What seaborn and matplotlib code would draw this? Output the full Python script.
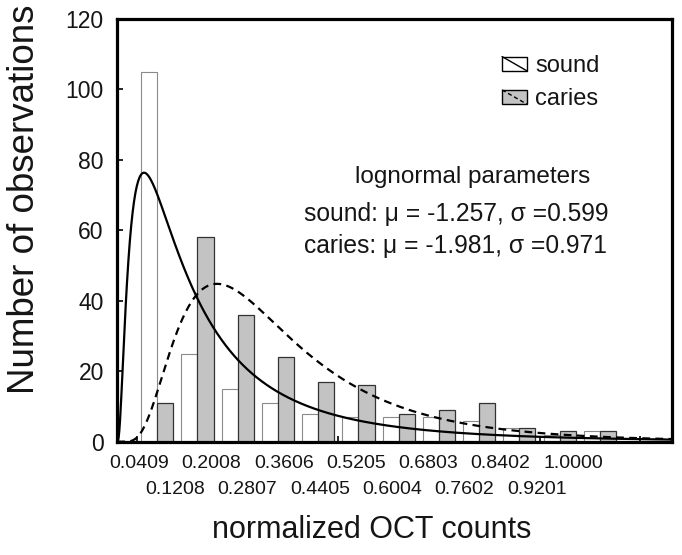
import numpy as np
import pandas as pd
import matplotlib
matplotlib.use("Agg")
import matplotlib.pyplot as plt
import matplotlib.transforms as mtransforms
import seaborn as sns
from matplotlib.patches import Patch, Rectangle
from matplotlib.lines import Line2D
from matplotlib.legend_handler import HandlerBase

# ---------------- data ----------------
bin_labels = ["0.0409", "0.1208", "0.2008", "0.2807", "0.3606", "0.4405", "0.5205",
              "0.6004", "0.6803", "0.7602", "0.8402", "0.9201", "1.0000"]
sound_counts = [105, 25, 15, 11, 8, 7, 7, 7, 6, 4, 2, 3]
caries_counts = [11, 58, 36, 24, 17, 16, 8, 9, 11, 4, 3, 3]
series_names = ["sound", "caries"]
sound_mu, sound_sigma = -1.257, 0.599
caries_mu, caries_sigma = -1.981, 0.971
bin_width = 0.08

# ---------------- style ----------------
sns.set_theme(style="white")
plt.rcParams["font.family"] = ["Liberation Sans", "DejaVu Sans"]
TXT = "#151515"

W, H = 682, 555
fig = plt.figure(figsize=(W / 100, H / 100), dpi=100)
ax_l, ax_r, ax_t, ax_b = 117, 672, 19, 441.7
ax = fig.add_axes([ax_l / W, 1 - ax_b / H, (ax_r - ax_l) / W, (ax_b - ax_t) / H])

centers = bin_width * (np.arange(len(sound_counts)) + 1)
df = pd.DataFrame({
    "center": np.round(np.concatenate([centers, centers]), 4),
    "count": sound_counts + caries_counts,
    "group": [series_names[0]] * len(sound_counts) + [series_names[1]] * len(caries_counts),
})

sns.barplot(data=df, x="center", y="count", hue="group", native_scale=True,
            palette={"sound": "white", "caries": "#c3c3c3"}, saturation=1,
            width=0.8, dodge=True, errorbar=None, legend=False, ax=ax, zorder=2)
for cont, ec, lw in zip(ax.containers, ["#8a8a8a", "#333333"], [0.8, 0.9]):
    for p in cont:
        p.set_edgecolor(ec)
        p.set_linewidth(lw)

# lognormal fit curves (scaled to counts: N * bin width)
def lognorm_pdf(x, mu, sigma):
    return np.exp(-(np.log(x) - mu) ** 2 / (2 * sigma ** 2)) / (x * sigma * np.sqrt(2 * np.pi))

scale = sum(sound_counts) * bin_width
xs = np.linspace(0.0005, 1.11, 800)
sns.lineplot(x=xs, y=scale * lognorm_pdf(xs, caries_mu, caries_sigma), color="black",
             lw=1.6, ax=ax, zorder=4)
sns.lineplot(x=xs, y=scale * lognorm_pdf(xs, sound_mu, sound_sigma), color="black",
             lw=1.6, linestyle=(0, (3.5, 2.4)), ax=ax, zorder=4)

px_per_unit = 503.0
ax.set_xlim(0, (ax_r - ax_l) / px_per_unit)
ax.set_ylim(0, 120)

# axes / ticks
ax.set_yticks(np.arange(0, 121, 20))
ax.tick_params(axis="y", direction="in", length=4.5, width=1.2, color="black",
               labelsize=16.5, labelcolor=TXT, pad=9.5, left=True)
lab_pos = np.linspace((139 - ax_l) / px_per_unit, (573 - ax_l) / px_per_unit, len(bin_labels))
ax.set_xticks(lab_pos[0::2], bin_labels[0::2])
ax.tick_params(axis="x", which="major", length=0, labelsize=14, labelcolor=TXT, pad=9.5)
trans = mtransforms.blended_transform_factory(ax.transData, ax.transAxes)
row2_y = -(489 - ax_b) / (ax_b - ax_t)
for xp, t in zip(lab_pos[1::2], bin_labels[1::2]):
    ax.text(xp, row2_y, t, transform=trans, ha="center", va="center",
            fontsize=14, color=TXT, clip_on=False)
ax.set_xticks(0.04 + 0.1 * np.arange(11), minor=True)
ax.tick_params(axis="x", which="minor", direction="in", length=4.5, width=1.2,
               color="black", bottom=True)
for s in ax.spines.values():
    s.set_visible(True)
    s.set_color("black")
    s.set_linewidth(2.3)

ax.set_xlabel("normalized OCT counts", fontsize=22, color=TXT)
ax.set_ylabel("Number of observations", fontsize=26.5, color=TXT)
ax.xaxis.set_label_coords((372 - ax_l) / (ax_r - ax_l), -(515 - ax_b) / (ax_b - ax_t))
ax.yaxis.set_label_coords(-(ax_l - 42) / (ax_r - ax_l), 1 - (199 - ax_t) / (ax_b - ax_t))

# annotation
def axc(px, py):
    return (px - ax_l) / (ax_r - ax_l), 1 - (py - ax_t) / (ax_b - ax_t)

ax.text(*axc(473, 177), "lognormal parameters", transform=ax.transAxes, ha="center",
        va="center", fontsize=17.5, color=TXT)
ax.text(*axc(304, 214), f"sound: μ = {sound_mu:.3f}, σ ={sound_sigma:.3f}",
        transform=ax.transAxes, ha="left", va="center", fontsize=17.7, color=TXT)
ax.text(*axc(304, 246), f"caries: μ = {caries_mu:.3f}, σ ={caries_sigma:.3f}",
        transform=ax.transAxes, ha="left", va="center", fontsize=17.7, color=TXT)

# legend with box + diagonal line
class HandlerBoxDiag(HandlerBase):
    def create_artists(self, legend, orig_handle, xdescent, ydescent, width, height,
                       fontsize, trans):
        x0, y0 = -xdescent, -ydescent
        r = Rectangle((x0, y0), width, height, facecolor=orig_handle.get_facecolor(),
                      edgecolor="black", lw=1.0, transform=trans)
        ln = Line2D([x0, x0 + width], [y0 + height, y0], color="black", lw=1.0,
                    linestyle=orig_handle.get_linestyle(), transform=trans)
        return [r, ln]

handles = [Patch(facecolor="white", linestyle="-"),
           Patch(facecolor="#c3c3c3", linestyle=(0, (3, 2)))]
fig.legend(handles, series_names, handler_map={Patch: HandlerBoxDiag()},
           loc="upper left", bbox_to_anchor=(502 / W, 1 - 55 / H), frameon=False,
           fontsize=17, borderpad=0, borderaxespad=0, handlelength=1.05, handleheight=0.55,
           handletextpad=0.35, labelspacing=0.48, labelcolor=TXT)

fig.savefig("out.png", dpi=100)
